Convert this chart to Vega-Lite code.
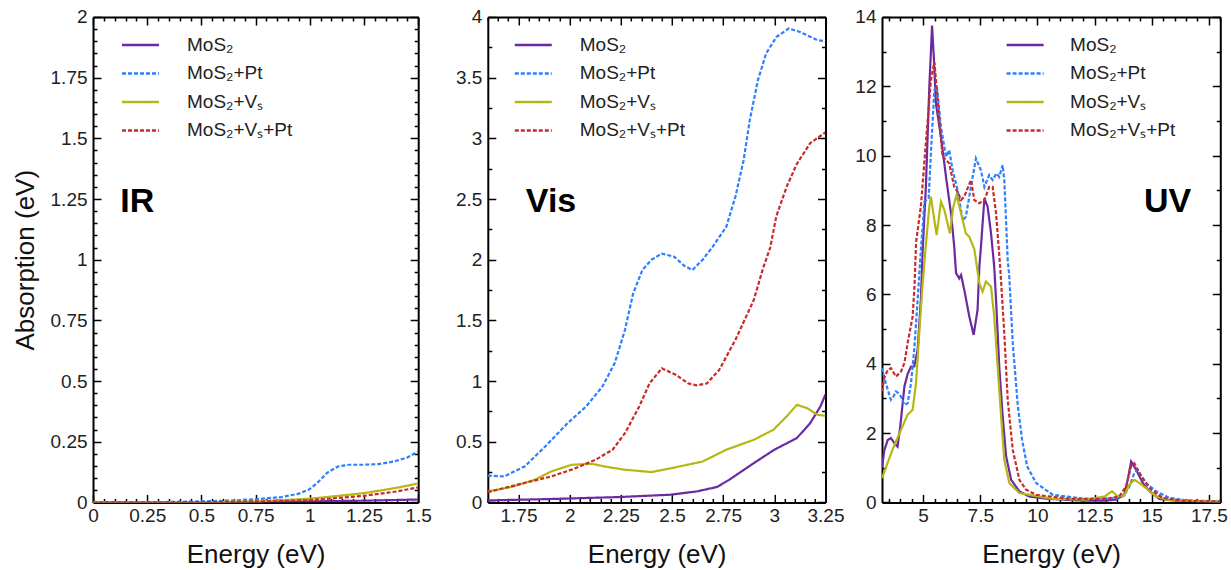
{
  "$schema": "https://vega.github.io/schema/vega-lite/v6.json",
  "padding": {"left": 12, "top": 8, "right": 0, "bottom": 4},
  "datasets": {
    "ir": [
      {"E": 0, "A": 0, "s": "MoS₂"}, {"E": 0.5, "A": 0.001, "s": "MoS₂"}, {"E": 0.75, "A": 0.002, "s": "MoS₂"}, {"E": 1.0, "A": 0.004, "s": "MoS₂"}, {"E": 1.25, "A": 0.007, "s": "MoS₂"}, {"E": 1.5, "A": 0.012, "s": "MoS₂"},
      {"E": 0, "A": 0, "s": "MoS₂+Pt"}, {"E": 0.3, "A": 0.001, "s": "MoS₂+Pt"}, {"E": 0.5, "A": 0.004, "s": "MoS₂+Pt"}, {"E": 0.65, "A": 0.008, "s": "MoS₂+Pt"}, {"E": 0.75, "A": 0.013, "s": "MoS₂+Pt"}, {"E": 0.87, "A": 0.022, "s": "MoS₂+Pt"}, {"E": 0.95, "A": 0.036, "s": "MoS₂+Pt"}, {"E": 1.0, "A": 0.055, "s": "MoS₂+Pt"}, {"E": 1.04, "A": 0.085, "s": "MoS₂+Pt"}, {"E": 1.08, "A": 0.122, "s": "MoS₂+Pt"}, {"E": 1.13, "A": 0.148, "s": "MoS₂+Pt"}, {"E": 1.18, "A": 0.155, "s": "MoS₂+Pt"}, {"E": 1.25, "A": 0.155, "s": "MoS₂+Pt"}, {"E": 1.32, "A": 0.158, "s": "MoS₂+Pt"}, {"E": 1.39, "A": 0.169, "s": "MoS₂+Pt"}, {"E": 1.45, "A": 0.185, "s": "MoS₂+Pt"}, {"E": 1.5, "A": 0.21, "s": "MoS₂+Pt"},
      {"E": 0, "A": 0, "s": "MoS₂+Vₛ"}, {"E": 0.5, "A": 0.001, "s": "MoS₂+Vₛ"}, {"E": 0.75, "A": 0.004, "s": "MoS₂+Vₛ"}, {"E": 1.0, "A": 0.015, "s": "MoS₂+Vₛ"}, {"E": 1.25, "A": 0.038, "s": "MoS₂+Vₛ"}, {"E": 1.4, "A": 0.06, "s": "MoS₂+Vₛ"}, {"E": 1.5, "A": 0.078, "s": "MoS₂+Vₛ"},
      {"E": 0, "A": 0, "s": "MoS₂+Vₛ+Pt"}, {"E": 0.5, "A": 0.001, "s": "MoS₂+Vₛ+Pt"}, {"E": 0.75, "A": 0.003, "s": "MoS₂+Vₛ+Pt"}, {"E": 1.0, "A": 0.009, "s": "MoS₂+Vₛ+Pt"}, {"E": 1.25, "A": 0.027, "s": "MoS₂+Vₛ+Pt"}, {"E": 1.4, "A": 0.045, "s": "MoS₂+Vₛ+Pt"}, {"E": 1.5, "A": 0.062, "s": "MoS₂+Vₛ+Pt"}
    ],
    "vis": [
      {"E": 1.6, "A": 0.016, "s": "MoS₂"}, {"E": 1.91, "A": 0.028, "s": "MoS₂"}, {"E": 2.24, "A": 0.044, "s": "MoS₂"}, {"E": 2.49, "A": 0.063, "s": "MoS₂"}, {"E": 2.62, "A": 0.09, "s": "MoS₂"}, {"E": 2.72, "A": 0.127, "s": "MoS₂"}, {"E": 2.78, "A": 0.187, "s": "MoS₂"}, {"E": 2.9, "A": 0.324, "s": "MoS₂"}, {"E": 3.0, "A": 0.434, "s": "MoS₂"}, {"E": 3.11, "A": 0.53, "s": "MoS₂"}, {"E": 3.175, "A": 0.653, "s": "MoS₂"}, {"E": 3.225, "A": 0.79, "s": "MoS₂"}, {"E": 3.25, "A": 0.89, "s": "MoS₂"},
      {"E": 1.6, "A": 0.22, "s": "MoS₂+Pt"}, {"E": 1.68, "A": 0.214, "s": "MoS₂+Pt"}, {"E": 1.78, "A": 0.296, "s": "MoS₂+Pt"}, {"E": 1.88, "A": 0.46, "s": "MoS₂+Pt"}, {"E": 1.99, "A": 0.653, "s": "MoS₂+Pt"}, {"E": 2.08, "A": 0.79, "s": "MoS₂+Pt"}, {"E": 2.16, "A": 0.955, "s": "MoS₂+Pt"}, {"E": 2.22, "A": 1.147, "s": "MoS₂+Pt"}, {"E": 2.27, "A": 1.42, "s": "MoS₂+Pt"}, {"E": 2.31, "A": 1.72, "s": "MoS₂+Pt"}, {"E": 2.355, "A": 1.915, "s": "MoS₂+Pt"}, {"E": 2.4, "A": 2.0, "s": "MoS₂+Pt"}, {"E": 2.45, "A": 2.05, "s": "MoS₂+Pt"}, {"E": 2.51, "A": 2.025, "s": "MoS₂+Pt"}, {"E": 2.56, "A": 1.95, "s": "MoS₂+Pt"}, {"E": 2.6, "A": 1.915, "s": "MoS₂+Pt"}, {"E": 2.65, "A": 2.0, "s": "MoS₂+Pt"}, {"E": 2.7, "A": 2.11, "s": "MoS₂+Pt"}, {"E": 2.765, "A": 2.27, "s": "MoS₂+Pt"}, {"E": 2.81, "A": 2.52, "s": "MoS₂+Pt"}, {"E": 2.85, "A": 2.82, "s": "MoS₂+Pt"}, {"E": 2.88, "A": 3.15, "s": "MoS₂+Pt"}, {"E": 2.92, "A": 3.48, "s": "MoS₂+Pt"}, {"E": 2.96, "A": 3.7, "s": "MoS₂+Pt"}, {"E": 3.01, "A": 3.835, "s": "MoS₂+Pt"}, {"E": 3.07, "A": 3.905, "s": "MoS₂+Pt"}, {"E": 3.125, "A": 3.877, "s": "MoS₂+Pt"}, {"E": 3.21, "A": 3.81, "s": "MoS₂+Pt"}, {"E": 3.25, "A": 3.8, "s": "MoS₂+Pt"},
      {"E": 1.6, "A": 0.09, "s": "MoS₂+Vₛ"}, {"E": 1.715, "A": 0.127, "s": "MoS₂+Vₛ"}, {"E": 1.83, "A": 0.187, "s": "MoS₂+Vₛ"}, {"E": 1.91, "A": 0.255, "s": "MoS₂+Vₛ"}, {"E": 2.01, "A": 0.31, "s": "MoS₂+Vₛ"}, {"E": 2.11, "A": 0.318, "s": "MoS₂+Vₛ"}, {"E": 2.17, "A": 0.296, "s": "MoS₂+Vₛ"}, {"E": 2.27, "A": 0.269, "s": "MoS₂+Vₛ"}, {"E": 2.4, "A": 0.25, "s": "MoS₂+Vₛ"}, {"E": 2.5, "A": 0.283, "s": "MoS₂+Vₛ"}, {"E": 2.65, "A": 0.337, "s": "MoS₂+Vₛ"}, {"E": 2.765, "A": 0.434, "s": "MoS₂+Vₛ"}, {"E": 2.9, "A": 0.516, "s": "MoS₂+Vₛ"}, {"E": 2.995, "A": 0.598, "s": "MoS₂+Vₛ"}, {"E": 3.06, "A": 0.708, "s": "MoS₂+Vₛ"}, {"E": 3.11, "A": 0.804, "s": "MoS₂+Vₛ"}, {"E": 3.16, "A": 0.777, "s": "MoS₂+Vₛ"}, {"E": 3.21, "A": 0.722, "s": "MoS₂+Vₛ"}, {"E": 3.25, "A": 0.714, "s": "MoS₂+Vₛ"},
      {"E": 1.6, "A": 0.085, "s": "MoS₂+Vₛ+Pt"}, {"E": 1.68, "A": 0.118, "s": "MoS₂+Vₛ+Pt"}, {"E": 1.78, "A": 0.16, "s": "MoS₂+Vₛ+Pt"}, {"E": 1.91, "A": 0.214, "s": "MoS₂+Vₛ+Pt"}, {"E": 2.01, "A": 0.27, "s": "MoS₂+Vₛ+Pt"}, {"E": 2.125, "A": 0.35, "s": "MoS₂+Vₛ+Pt"}, {"E": 2.21, "A": 0.434, "s": "MoS₂+Vₛ+Pt"}, {"E": 2.27, "A": 0.57, "s": "MoS₂+Vₛ+Pt"}, {"E": 2.34, "A": 0.79, "s": "MoS₂+Vₛ+Pt"}, {"E": 2.39, "A": 0.98, "s": "MoS₂+Vₛ+Pt"}, {"E": 2.45, "A": 1.105, "s": "MoS₂+Vₛ+Pt"}, {"E": 2.52, "A": 1.05, "s": "MoS₂+Vₛ+Pt"}, {"E": 2.58, "A": 0.98, "s": "MoS₂+Vₛ+Pt"}, {"E": 2.62, "A": 0.965, "s": "MoS₂+Vₛ+Pt"}, {"E": 2.67, "A": 0.98, "s": "MoS₂+Vₛ+Pt"}, {"E": 2.73, "A": 1.09, "s": "MoS₂+Vₛ+Pt"}, {"E": 2.81, "A": 1.34, "s": "MoS₂+Vₛ+Pt"}, {"E": 2.9, "A": 1.67, "s": "MoS₂+Vₛ+Pt"}, {"E": 2.945, "A": 1.93, "s": "MoS₂+Vₛ+Pt"}, {"E": 2.98, "A": 2.1, "s": "MoS₂+Vₛ+Pt"}, {"E": 3.01, "A": 2.36, "s": "MoS₂+Vₛ+Pt"}, {"E": 3.06, "A": 2.6, "s": "MoS₂+Vₛ+Pt"}, {"E": 3.11, "A": 2.79, "s": "MoS₂+Vₛ+Pt"}, {"E": 3.175, "A": 2.96, "s": "MoS₂+Vₛ+Pt"}, {"E": 3.25, "A": 3.05, "s": "MoS₂+Vₛ+Pt"}
    ],
    "uv": [
      {"E": 3.2, "A": 1.0, "s": "MoS₂"}, {"E": 3.3, "A": 1.5, "s": "MoS₂"}, {"E": 3.45, "A": 1.8, "s": "MoS₂"}, {"E": 3.59, "A": 1.855, "s": "MoS₂"}, {"E": 3.75, "A": 1.7, "s": "MoS₂"}, {"E": 3.88, "A": 1.61, "s": "MoS₂"}, {"E": 4.0, "A": 2.2, "s": "MoS₂"}, {"E": 4.18, "A": 3.34, "s": "MoS₂"}, {"E": 4.32, "A": 3.7, "s": "MoS₂"}, {"E": 4.47, "A": 3.92, "s": "MoS₂"}, {"E": 4.61, "A": 3.92, "s": "MoS₂"}, {"E": 4.76, "A": 4.4, "s": "MoS₂"}, {"E": 4.9, "A": 5.84, "s": "MoS₂"}, {"E": 4.98, "A": 7.28, "s": "MoS₂"}, {"E": 5.12, "A": 9.1, "s": "MoS₂"}, {"E": 5.27, "A": 11.98, "s": "MoS₂"}, {"E": 5.39, "A": 13.75, "s": "MoS₂"}, {"E": 5.47, "A": 12.8, "s": "MoS₂"}, {"E": 5.56, "A": 11.5, "s": "MoS₂"}, {"E": 5.78, "A": 10.54, "s": "MoS₂"}, {"E": 6.0, "A": 9.39, "s": "MoS₂"}, {"E": 6.22, "A": 8.34, "s": "MoS₂"}, {"E": 6.36, "A": 7.38, "s": "MoS₂"}, {"E": 6.44, "A": 6.61, "s": "MoS₂"}, {"E": 6.58, "A": 6.46, "s": "MoS₂"}, {"E": 6.66, "A": 6.56, "s": "MoS₂"}, {"E": 6.8, "A": 6.13, "s": "MoS₂"}, {"E": 7.02, "A": 5.36, "s": "MoS₂"}, {"E": 7.21, "A": 4.83, "s": "MoS₂"}, {"E": 7.38, "A": 5.55, "s": "MoS₂"}, {"E": 7.46, "A": 6.8, "s": "MoS₂"}, {"E": 7.53, "A": 7.38, "s": "MoS₂"}, {"E": 7.68, "A": 8.77, "s": "MoS₂"}, {"E": 7.82, "A": 8.53, "s": "MoS₂"}, {"E": 7.97, "A": 7.76, "s": "MoS₂"}, {"E": 8.11, "A": 6.8, "s": "MoS₂"}, {"E": 8.19, "A": 5.84, "s": "MoS₂"}, {"E": 8.33, "A": 3.92, "s": "MoS₂"}, {"E": 8.48, "A": 2.48, "s": "MoS₂"}, {"E": 8.63, "A": 1.33, "s": "MoS₂"}, {"E": 8.85, "A": 0.65, "s": "MoS₂"}, {"E": 9.21, "A": 0.32, "s": "MoS₂"}, {"E": 9.64, "A": 0.17, "s": "MoS₂"}, {"E": 10.5, "A": 0.1, "s": "MoS₂"}, {"E": 12.0, "A": 0.05, "s": "MoS₂"}, {"E": 13.0, "A": 0.05, "s": "MoS₂"}, {"E": 13.44, "A": 0.08, "s": "MoS₂"}, {"E": 13.8, "A": 0.22, "s": "MoS₂"}, {"E": 13.95, "A": 0.65, "s": "MoS₂"}, {"E": 14.1, "A": 1.18, "s": "MoS₂"}, {"E": 14.32, "A": 0.94, "s": "MoS₂"}, {"E": 14.61, "A": 0.56, "s": "MoS₂"}, {"E": 14.9, "A": 0.32, "s": "MoS₂"}, {"E": 15.34, "A": 0.1, "s": "MoS₂"}, {"E": 16.07, "A": 0.05, "s": "MoS₂"}, {"E": 17.0, "A": 0.03, "s": "MoS₂"}, {"E": 18.0, "A": 0.02, "s": "MoS₂"},
      {"E": 3.2, "A": 3.87, "s": "MoS₂+Pt"}, {"E": 3.3, "A": 3.6, "s": "MoS₂+Pt"}, {"E": 3.45, "A": 3.25, "s": "MoS₂+Pt"}, {"E": 3.59, "A": 2.96, "s": "MoS₂+Pt"}, {"E": 3.7, "A": 3.05, "s": "MoS₂+Pt"}, {"E": 3.81, "A": 3.2, "s": "MoS₂+Pt"}, {"E": 3.92, "A": 3.15, "s": "MoS₂+Pt"}, {"E": 4.03, "A": 3.05, "s": "MoS₂+Pt"}, {"E": 4.18, "A": 2.81, "s": "MoS₂+Pt"}, {"E": 4.32, "A": 2.86, "s": "MoS₂+Pt"}, {"E": 4.47, "A": 3.44, "s": "MoS₂+Pt"}, {"E": 4.61, "A": 4.4, "s": "MoS₂+Pt"}, {"E": 4.76, "A": 5.84, "s": "MoS₂+Pt"}, {"E": 4.9, "A": 7.28, "s": "MoS₂+Pt"}, {"E": 4.98, "A": 7.95, "s": "MoS₂+Pt"}, {"E": 5.05, "A": 8.67, "s": "MoS₂+Pt"}, {"E": 5.24, "A": 8.77, "s": "MoS₂+Pt"}, {"E": 5.34, "A": 10.07, "s": "MoS₂+Pt"}, {"E": 5.49, "A": 11.89, "s": "MoS₂+Pt"}, {"E": 5.6, "A": 12.0, "s": "MoS₂+Pt"}, {"E": 5.78, "A": 10.83, "s": "MoS₂+Pt"}, {"E": 6.0, "A": 9.97, "s": "MoS₂+Pt"}, {"E": 6.14, "A": 10.16, "s": "MoS₂+Pt"}, {"E": 6.29, "A": 9.58, "s": "MoS₂+Pt"}, {"E": 6.51, "A": 9.0, "s": "MoS₂+Pt"}, {"E": 6.73, "A": 8.14, "s": "MoS₂+Pt"}, {"E": 6.87, "A": 8.24, "s": "MoS₂+Pt"}, {"E": 7.09, "A": 9.1, "s": "MoS₂+Pt"}, {"E": 7.31, "A": 9.92, "s": "MoS₂+Pt"}, {"E": 7.53, "A": 9.58, "s": "MoS₂+Pt"}, {"E": 7.68, "A": 9.1, "s": "MoS₂+Pt"}, {"E": 7.89, "A": 9.44, "s": "MoS₂+Pt"}, {"E": 8.04, "A": 9.3, "s": "MoS₂+Pt"}, {"E": 8.21, "A": 9.49, "s": "MoS₂+Pt"}, {"E": 8.33, "A": 9.39, "s": "MoS₂+Pt"}, {"E": 8.48, "A": 9.73, "s": "MoS₂+Pt"}, {"E": 8.55, "A": 9.3, "s": "MoS₂+Pt"}, {"E": 8.7, "A": 6.99, "s": "MoS₂+Pt"}, {"E": 8.77, "A": 6.5, "s": "MoS₂+Pt"}, {"E": 8.92, "A": 4.6, "s": "MoS₂+Pt"}, {"E": 9.14, "A": 2.8, "s": "MoS₂+Pt"}, {"E": 9.33, "A": 1.8, "s": "MoS₂+Pt"}, {"E": 9.55, "A": 1.04, "s": "MoS₂+Pt"}, {"E": 9.94, "A": 0.56, "s": "MoS₂+Pt"}, {"E": 10.67, "A": 0.22, "s": "MoS₂+Pt"}, {"E": 12.13, "A": 0.1, "s": "MoS₂+Pt"}, {"E": 13.58, "A": 0.13, "s": "MoS₂+Pt"}, {"E": 13.8, "A": 0.2, "s": "MoS₂+Pt"}, {"E": 14.02, "A": 0.46, "s": "MoS₂+Pt"}, {"E": 14.24, "A": 0.85, "s": "MoS₂+Pt"}, {"E": 14.38, "A": 0.94, "s": "MoS₂+Pt"}, {"E": 14.75, "A": 0.56, "s": "MoS₂+Pt"}, {"E": 15.19, "A": 0.32, "s": "MoS₂+Pt"}, {"E": 15.77, "A": 0.13, "s": "MoS₂+Pt"}, {"E": 16.5, "A": 0.06, "s": "MoS₂+Pt"}, {"E": 18.0, "A": 0.03, "s": "MoS₂+Pt"},
      {"E": 3.2, "A": 0.7, "s": "MoS₂+Vₛ"}, {"E": 3.66, "A": 1.52, "s": "MoS₂+Vₛ"}, {"E": 4.03, "A": 2.09, "s": "MoS₂+Vₛ"}, {"E": 4.32, "A": 2.53, "s": "MoS₂+Vₛ"}, {"E": 4.54, "A": 2.67, "s": "MoS₂+Vₛ"}, {"E": 4.69, "A": 3.44, "s": "MoS₂+Vₛ"}, {"E": 4.83, "A": 4.88, "s": "MoS₂+Vₛ"}, {"E": 4.98, "A": 6.32, "s": "MoS₂+Vₛ"}, {"E": 5.1, "A": 7.28, "s": "MoS₂+Vₛ"}, {"E": 5.27, "A": 8.53, "s": "MoS₂+Vₛ"}, {"E": 5.34, "A": 8.82, "s": "MoS₂+Vₛ"}, {"E": 5.49, "A": 8.14, "s": "MoS₂+Vₛ"}, {"E": 5.59, "A": 7.71, "s": "MoS₂+Vₛ"}, {"E": 5.78, "A": 8.67, "s": "MoS₂+Vₛ"}, {"E": 5.93, "A": 8.43, "s": "MoS₂+Vₛ"}, {"E": 6.17, "A": 7.76, "s": "MoS₂+Vₛ"}, {"E": 6.32, "A": 8.53, "s": "MoS₂+Vₛ"}, {"E": 6.46, "A": 8.86, "s": "MoS₂+Vₛ"}, {"E": 6.66, "A": 8.34, "s": "MoS₂+Vₛ"}, {"E": 6.87, "A": 7.76, "s": "MoS₂+Vₛ"}, {"E": 7.02, "A": 7.66, "s": "MoS₂+Vₛ"}, {"E": 7.24, "A": 7.3, "s": "MoS₂+Vₛ"}, {"E": 7.46, "A": 6.32, "s": "MoS₂+Vₛ"}, {"E": 7.6, "A": 6.08, "s": "MoS₂+Vₛ"}, {"E": 7.75, "A": 6.37, "s": "MoS₂+Vₛ"}, {"E": 7.97, "A": 6.22, "s": "MoS₂+Vₛ"}, {"E": 8.11, "A": 5.36, "s": "MoS₂+Vₛ"}, {"E": 8.26, "A": 3.92, "s": "MoS₂+Vₛ"}, {"E": 8.41, "A": 2.48, "s": "MoS₂+Vₛ"}, {"E": 8.55, "A": 1.23, "s": "MoS₂+Vₛ"}, {"E": 8.77, "A": 0.56, "s": "MoS₂+Vₛ"}, {"E": 9.21, "A": 0.27, "s": "MoS₂+Vₛ"}, {"E": 10.67, "A": 0.1, "s": "MoS₂+Vₛ"}, {"E": 12.13, "A": 0.08, "s": "MoS₂+Vₛ"}, {"E": 12.93, "A": 0.17, "s": "MoS₂+Vₛ"}, {"E": 13.27, "A": 0.32, "s": "MoS₂+Vₛ"}, {"E": 13.51, "A": 0.17, "s": "MoS₂+Vₛ"}, {"E": 13.8, "A": 0.2, "s": "MoS₂+Vₛ"}, {"E": 14.02, "A": 0.51, "s": "MoS₂+Vₛ"}, {"E": 14.24, "A": 0.65, "s": "MoS₂+Vₛ"}, {"E": 14.46, "A": 0.56, "s": "MoS₂+Vₛ"}, {"E": 14.75, "A": 0.41, "s": "MoS₂+Vₛ"}, {"E": 15.19, "A": 0.17, "s": "MoS₂+Vₛ"}, {"E": 15.77, "A": 0.06, "s": "MoS₂+Vₛ"}, {"E": 18.0, "A": 0.02, "s": "MoS₂+Vₛ"},
      {"E": 3.2, "A": 3.2, "s": "MoS₂+Vₛ+Pt"}, {"E": 3.3, "A": 3.6, "s": "MoS₂+Vₛ+Pt"}, {"E": 3.45, "A": 3.82, "s": "MoS₂+Vₛ+Pt"}, {"E": 3.59, "A": 3.87, "s": "MoS₂+Vₛ+Pt"}, {"E": 3.81, "A": 3.63, "s": "MoS₂+Vₛ+Pt"}, {"E": 4.03, "A": 3.77, "s": "MoS₂+Vₛ+Pt"}, {"E": 4.18, "A": 4.02, "s": "MoS₂+Vₛ+Pt"}, {"E": 4.32, "A": 4.59, "s": "MoS₂+Vₛ+Pt"}, {"E": 4.54, "A": 5.36, "s": "MoS₂+Vₛ+Pt"}, {"E": 4.62, "A": 6.2, "s": "MoS₂+Vₛ+Pt"}, {"E": 4.69, "A": 7.5, "s": "MoS₂+Vₛ+Pt"}, {"E": 4.9, "A": 8.53, "s": "MoS₂+Vₛ+Pt"}, {"E": 5.05, "A": 9.78, "s": "MoS₂+Vₛ+Pt"}, {"E": 5.2, "A": 11.03, "s": "MoS₂+Vₛ+Pt"}, {"E": 5.34, "A": 12.18, "s": "MoS₂+Vₛ+Pt"}, {"E": 5.49, "A": 12.7, "s": "MoS₂+Vₛ+Pt"}, {"E": 5.59, "A": 11.98, "s": "MoS₂+Vₛ+Pt"}, {"E": 5.71, "A": 11.03, "s": "MoS₂+Vₛ+Pt"}, {"E": 5.85, "A": 9.97, "s": "MoS₂+Vₛ+Pt"}, {"E": 6.0, "A": 9.87, "s": "MoS₂+Vₛ+Pt"}, {"E": 6.14, "A": 9.78, "s": "MoS₂+Vₛ+Pt"}, {"E": 6.36, "A": 9.1, "s": "MoS₂+Vₛ+Pt"}, {"E": 6.51, "A": 8.96, "s": "MoS₂+Vₛ+Pt"}, {"E": 6.66, "A": 8.72, "s": "MoS₂+Vₛ+Pt"}, {"E": 6.8, "A": 8.82, "s": "MoS₂+Vₛ+Pt"}, {"E": 7.09, "A": 9.3, "s": "MoS₂+Vₛ+Pt"}, {"E": 7.24, "A": 8.72, "s": "MoS₂+Vₛ+Pt"}, {"E": 7.46, "A": 8.63, "s": "MoS₂+Vₛ+Pt"}, {"E": 7.68, "A": 8.72, "s": "MoS₂+Vₛ+Pt"}, {"E": 7.89, "A": 9.1, "s": "MoS₂+Vₛ+Pt"}, {"E": 8.04, "A": 9.1, "s": "MoS₂+Vₛ+Pt"}, {"E": 8.19, "A": 8.34, "s": "MoS₂+Vₛ+Pt"}, {"E": 8.37, "A": 6.8, "s": "MoS₂+Vₛ+Pt"}, {"E": 8.55, "A": 4.88, "s": "MoS₂+Vₛ+Pt"}, {"E": 8.7, "A": 2.96, "s": "MoS₂+Vₛ+Pt"}, {"E": 8.92, "A": 1.52, "s": "MoS₂+Vₛ+Pt"}, {"E": 9.21, "A": 0.65, "s": "MoS₂+Vₛ+Pt"}, {"E": 9.5, "A": 0.37, "s": "MoS₂+Vₛ+Pt"}, {"E": 9.94, "A": 0.22, "s": "MoS₂+Vₛ+Pt"}, {"E": 11.4, "A": 0.1, "s": "MoS₂+Vₛ+Pt"}, {"E": 13.0, "A": 0.1, "s": "MoS₂+Vₛ+Pt"}, {"E": 13.58, "A": 0.17, "s": "MoS₂+Vₛ+Pt"}, {"E": 13.88, "A": 0.46, "s": "MoS₂+Vₛ+Pt"}, {"E": 14.1, "A": 1.04, "s": "MoS₂+Vₛ+Pt"}, {"E": 14.24, "A": 1.13, "s": "MoS₂+Vₛ+Pt"}, {"E": 14.53, "A": 0.75, "s": "MoS₂+Vₛ+Pt"}, {"E": 14.97, "A": 0.37, "s": "MoS₂+Vₛ+Pt"}, {"E": 15.48, "A": 0.13, "s": "MoS₂+Vₛ+Pt"}, {"E": 16.3, "A": 0.05, "s": "MoS₂+Vₛ+Pt"}, {"E": 18.0, "A": 0.02, "s": "MoS₂+Vₛ+Pt"}
    ]
  },
  "spacing": 22.8,
  "hconcat": [
    {
      "width": 325.2,
      "height": 485.4,
      "layer": [
        {
          "data": {"name": "ir"},
          "mark": {"type": "line", "strokeWidth": 2.2, "clip": true},
          "encoding": {
            "x": {"field": "E", "type": "quantitative", "scale": {"domain": [0, 1.5], "nice": false, "zero": false},
              "axis": {"title": "Energy (eV)", "labelFlush": false, "values": [0,0.05,0.1,0.15,0.2,0.25,0.3,0.35,0.4,0.45,0.5,0.55,0.6,0.65,0.7,0.75,0.8,0.85,0.9,0.95,1,1.05,1.1,1.15,1.2,1.25,1.3,1.35,1.4,1.45,1.5],
                "tickSize": {"condition": {"test": "abs(datum.value/0.25-round(datum.value/0.25))<0.001", "value": -8}, "value": -4},
                "labelExpr": "abs(datum.value/0.25-round(datum.value/0.25))<0.001 ? format(datum.value,'~g') : ''",
                "labelPadding": 12, "titlePadding": 16}},
            "y": {"field": "A", "type": "quantitative", "scale": {"domain": [0, 2], "nice": false, "zero": false},
              "axis": {"title": "Absorption (eV)", "values": [0,0.05,0.1,0.15,0.2,0.25,0.3,0.35,0.4,0.45,0.5,0.55,0.6,0.65,0.7,0.75,0.8,0.85,0.9,0.95,1,1.05,1.1,1.15,1.2,1.25,1.3,1.35,1.4,1.45,1.5,1.55,1.6,1.65,1.7,1.75,1.8,1.85,1.9,1.95,2],
                "tickSize": {"condition": {"test": "abs(datum.value/0.25-round(datum.value/0.25))<0.001", "value": -8}, "value": -4},
                "labelExpr": "abs(datum.value/0.25-round(datum.value/0.25))<0.001 ? format(datum.value,'~g') : ''",
                "labelPadding": 14, "titlePadding": 12}},
            "color": {"field": "s", "type": "nominal",
              "scale": {"domain": ["MoS₂", "MoS₂+Pt", "MoS₂+Vₛ", "MoS₂+Vₛ+Pt"], "range": ["#6b2aa0", "#2d7fff", "#b5b814", "#c92a2a"]},
              "legend": {"title": null, "orient": "none", "legendX": 37, "legendY": 17.5, "symbolType": "M-2,0H2", "symbolSize": 342, "symbolStrokeWidth": 2.5, "labelFontSize": 19, "labelOffset": 36, "rowPadding": 7.5, "labelColor": "#222"}},
            "strokeDash": {"field": "s", "type": "nominal",
              "scale": {"domain": ["MoS₂", "MoS₂+Pt", "MoS₂+Vₛ", "MoS₂+Vₛ+Pt"], "range": [[1, 0], [4, 2], [1, 0], [4, 2]]},
              "legend": {"title": null, "orient": "none", "legendX": 37, "legendY": 17.5, "symbolType": "M-2,0H2", "symbolSize": 342, "symbolStrokeWidth": 2.5, "labelFontSize": 19, "labelOffset": 36, "rowPadding": 7.5, "labelColor": "#222"}}
          }
        },
        {
          "data": {"values": [{}]},
          "mark": {"type": "text", "text": "IR", "fontSize": 34, "fontWeight": "bold", "align": "left", "baseline": "alphabetic", "color": "#000"},
          "encoding": {
            "x": {"datum": 0.126, "type": "quantitative", "scale": {"domain": [0, 1.5], "nice": false, "zero": false}, "axis": null},
            "y": {"datum": 1.198, "type": "quantitative", "scale": {"domain": [0, 2], "nice": false, "zero": false}, "axis": null}
          }
        },
        {
          "data": {"values": [{}]},
          "mark": {"type": "point", "opacity": 0},
          "encoding": {
            "x": {"datum": 0, "type": "quantitative", "scale": {"domain": [0, 1.5], "nice": false, "zero": false},
              "axis": {"orient": "top", "title": null, "labels": false, "values": [0,0.05,0.1,0.15,0.2,0.25,0.3,0.35,0.4,0.45,0.5,0.55,0.6,0.65,0.7,0.75,0.8,0.85,0.9,0.95,1,1.05,1.1,1.15,1.2,1.25,1.3,1.35,1.4,1.45,1.5],
                "tickSize": {"condition": {"test": "abs(datum.value/0.25-round(datum.value/0.25))<0.001", "value": -8}, "value": -4}}},
            "y": {"datum": 0, "type": "quantitative", "scale": {"domain": [0, 2], "nice": false, "zero": false},
              "axis": {"orient": "right", "title": null, "labels": false, "values": [0,0.05,0.1,0.15,0.2,0.25,0.3,0.35,0.4,0.45,0.5,0.55,0.6,0.65,0.7,0.75,0.8,0.85,0.9,0.95,1,1.05,1.1,1.15,1.2,1.25,1.3,1.35,1.4,1.45,1.5,1.55,1.6,1.65,1.7,1.75,1.8,1.85,1.9,1.95,2],
                "tickSize": {"condition": {"test": "abs(datum.value/0.25-round(datum.value/0.25))<0.001", "value": -8}, "value": -4}}}
          }
        }
      ],
      "resolve": {"scale": {"x": "independent", "y": "independent"}}
    },
    {
      "spacing": 9.2,
      "hconcat": [
        {
          "width": 337.7,
          "height": 485.4,
          "layer": [
            {
              "data": {"name": "vis"},
              "mark": {"type": "line", "strokeWidth": 2.2, "clip": true},
              "encoding": {
                "x": {"field": "E", "type": "quantitative", "scale": {"domain": [1.6, 3.25], "nice": false, "zero": false},
                  "axis": {"title": "Energy (eV)", "labelFlush": false, "values": [1.6,1.65,1.7,1.75,1.8,1.85,1.9,1.95,2,2.05,2.1,2.15,2.2,2.25,2.3,2.35,2.4,2.45,2.5,2.55,2.6,2.65,2.7,2.75,2.8,2.85,2.9,2.95,3,3.05,3.1,3.15,3.2,3.25],
                    "tickSize": {"condition": {"test": "abs(datum.value/0.25-round(datum.value/0.25))<0.001", "value": -8}, "value": -4},
                    "labelExpr": "abs(datum.value/0.25-round(datum.value/0.25))<0.001 ? format(datum.value,'~g') : ''",
                    "labelPadding": 12, "titlePadding": 16}},
                "y": {"field": "A", "type": "quantitative", "scale": {"domain": [0, 4], "nice": false, "zero": false},
                  "axis": {"title": null, "values": [0,0.25,0.5,0.75,1,1.25,1.5,1.75,2,2.25,2.5,2.75,3,3.25,3.5,3.75,4],
                    "tickSize": {"condition": {"test": "abs(datum.value/0.5-round(datum.value/0.5))<0.001", "value": -8}, "value": -4},
                    "labelExpr": "abs(datum.value/0.5-round(datum.value/0.5))<0.001 ? format(datum.value,'~g') : ''",
                    "labelPadding": 14}},
                "color": {"field": "s", "type": "nominal",
                  "scale": {"domain": ["MoS₂", "MoS₂+Pt", "MoS₂+Vₛ", "MoS₂+Vₛ+Pt"], "range": ["#6b2aa0", "#2d7fff", "#b5b814", "#c92a2a"]},
                  "legend": {"title": null, "orient": "none", "legendX": 35, "legendY": 17.5, "symbolType": "M-2,0H2", "symbolSize": 342, "symbolStrokeWidth": 2.5, "labelFontSize": 19, "labelOffset": 36, "rowPadding": 7.5, "labelColor": "#222"}},
                "strokeDash": {"field": "s", "type": "nominal",
                  "scale": {"domain": ["MoS₂", "MoS₂+Pt", "MoS₂+Vₛ", "MoS₂+Vₛ+Pt"], "range": [[1, 0], [4, 2], [1, 0], [4, 2]]},
                  "legend": {"title": null, "orient": "none", "legendX": 35, "legendY": 17.5, "symbolType": "M-2,0H2", "symbolSize": 342, "symbolStrokeWidth": 2.5, "labelFontSize": 19, "labelOffset": 36, "rowPadding": 7.5, "labelColor": "#222"}}
              }
            },
            {
              "data": {"values": [{}]},
              "mark": {"type": "text", "text": "Vis", "fontSize": 34, "fontWeight": "bold", "align": "left", "baseline": "alphabetic", "color": "#000"},
              "encoding": {
                "x": {"datum": 1.786, "type": "quantitative", "scale": {"domain": [1.6, 3.25], "nice": false, "zero": false}, "axis": null},
                "y": {"datum": 2.393, "type": "quantitative", "scale": {"domain": [0, 4], "nice": false, "zero": false}, "axis": null}
              }
            },
            {
              "data": {"values": [{}]},
              "mark": {"type": "point", "opacity": 0},
              "encoding": {
                "x": {"datum": 2, "type": "quantitative", "scale": {"domain": [1.6, 3.25], "nice": false, "zero": false},
                  "axis": {"orient": "top", "title": null, "labels": false, "values": [1.6,1.65,1.7,1.75,1.8,1.85,1.9,1.95,2,2.05,2.1,2.15,2.2,2.25,2.3,2.35,2.4,2.45,2.5,2.55,2.6,2.65,2.7,2.75,2.8,2.85,2.9,2.95,3,3.05,3.1,3.15,3.2,3.25],
                    "tickSize": {"condition": {"test": "abs(datum.value/0.25-round(datum.value/0.25))<0.001", "value": -8}, "value": -4}}},
                "y": {"datum": 0, "type": "quantitative", "scale": {"domain": [0, 4], "nice": false, "zero": false},
                  "axis": {"orient": "right", "title": null, "labels": false, "values": [0,0.25,0.5,0.75,1,1.25,1.5,1.75,2,2.25,2.5,2.75,3,3.25,3.5,3.75,4],
                    "tickSize": {"condition": {"test": "abs(datum.value/0.5-round(datum.value/0.5))<0.001", "value": -8}, "value": -4}}}
              }
            }
          ],
          "resolve": {"scale": {"x": "independent", "y": "independent"}}
        },
        {
          "width": 338.3,
          "height": 485.4,
          "layer": [
            {
              "data": {"name": "uv"},
              "mark": {"type": "line", "strokeWidth": 2.2, "clip": true},
              "encoding": {
                "x": {"field": "E", "type": "quantitative", "scale": {"domain": [3.2, 18], "nice": false, "zero": false},
                  "axis": {"title": "Energy (eV)", "labelFlush": false, "values": [3.5,4,4.5,5,5.5,6,6.5,7,7.5,8,8.5,9,9.5,10,10.5,11,11.5,12,12.5,13,13.5,14,14.5,15,15.5,16,16.5,17,17.5,18],
                    "tickSize": {"condition": {"test": "abs(datum.value/2.5-round(datum.value/2.5))<0.001", "value": -8}, "value": -4},
                    "labelExpr": "abs(datum.value/2.5-round(datum.value/2.5))<0.001 ? format(datum.value,'~g') : ''",
                    "labelPadding": 12, "titlePadding": 16}},
                "y": {"field": "A", "type": "quantitative", "scale": {"domain": [0, 14], "nice": false, "zero": false},
                  "axis": {"title": null, "values": [0,1,2,3,4,5,6,7,8,9,10,11,12,13,14],
                    "tickSize": {"condition": {"test": "abs(datum.value/2-round(datum.value/2))<0.001", "value": -8}, "value": -4},
                    "labelExpr": "abs(datum.value/2-round(datum.value/2))<0.001 ? format(datum.value,'~g') : ''",
                    "labelPadding": 14}},
                "color": {"field": "s", "type": "nominal",
                  "scale": {"domain": ["MoS₂", "MoS₂+Pt", "MoS₂+Vₛ", "MoS₂+Vₛ+Pt"], "range": ["#6b2aa0", "#2d7fff", "#b5b814", "#c92a2a"]},
                  "legend": {"title": null, "orient": "none", "legendX": 132.6, "legendY": 17.5, "symbolType": "M-2,0H2", "symbolSize": 342, "symbolStrokeWidth": 2.5, "labelFontSize": 19, "labelOffset": 34.5, "rowPadding": 7.5, "labelColor": "#222"}},
                "strokeDash": {"field": "s", "type": "nominal",
                  "scale": {"domain": ["MoS₂", "MoS₂+Pt", "MoS₂+Vₛ", "MoS₂+Vₛ+Pt"], "range": [[1, 0], [4, 2], [1, 0], [4, 2]]},
                  "legend": {"title": null, "orient": "none", "legendX": 132.6, "legendY": 17.5, "symbolType": "M-2,0H2", "symbolSize": 342, "symbolStrokeWidth": 2.5, "labelFontSize": 19, "labelOffset": 34.5, "rowPadding": 7.5, "labelColor": "#222"}}
              }
            },
            {
              "data": {"values": [{}]},
              "mark": {"type": "text", "text": "UV", "fontSize": 34, "fontWeight": "bold", "align": "right", "baseline": "alphabetic", "color": "#000"},
              "encoding": {
                "x": {"datum": 16.73, "type": "quantitative", "scale": {"domain": [3.2, 18], "nice": false, "zero": false}, "axis": null},
                "y": {"datum": 8.384, "type": "quantitative", "scale": {"domain": [0, 14], "nice": false, "zero": false}, "axis": null}
              }
            },
            {
              "data": {"values": [{}]},
              "mark": {"type": "point", "opacity": 0},
              "encoding": {
                "x": {"datum": 5, "type": "quantitative", "scale": {"domain": [3.2, 18], "nice": false, "zero": false},
                  "axis": {"orient": "top", "title": null, "labels": false, "values": [3.5,4,4.5,5,5.5,6,6.5,7,7.5,8,8.5,9,9.5,10,10.5,11,11.5,12,12.5,13,13.5,14,14.5,15,15.5,16,16.5,17,17.5,18],
                    "tickSize": {"condition": {"test": "abs(datum.value/2.5-round(datum.value/2.5))<0.001", "value": -8}, "value": -4}}},
                "y": {"datum": 0, "type": "quantitative", "scale": {"domain": [0, 14], "nice": false, "zero": false},
                  "axis": {"orient": "right", "title": null, "labels": false, "values": [0,1,2,3,4,5,6,7,8,9,10,11,12,13,14],
                    "tickSize": {"condition": {"test": "abs(datum.value/2-round(datum.value/2))<0.001", "value": -8}, "value": -4}}}
              }
            }
          ],
          "resolve": {"scale": {"x": "independent", "y": "independent"}}
        }
      ],
      "resolve": {"scale": {"color": "independent", "strokeDash": "independent"}, "legend": {"color": "independent", "strokeDash": "independent"}}
    }
  ],
  "resolve": {"scale": {"color": "independent", "strokeDash": "independent"}, "legend": {"color": "independent", "strokeDash": "independent"}},
  "config": {
    "font": "Liberation Sans",
    "view": {"stroke": null},
    "axis": {"domainColor": "#000", "domainWidth": 2, "tickColor": "#000", "tickWidth": 1.5, "labelColor": "#222", "labelFontSize": 19, "titleFontSize": 26, "titleFontWeight": "normal", "titleColor": "#111", "grid": false},
    "legend": {"padding": 0}
  }
}
